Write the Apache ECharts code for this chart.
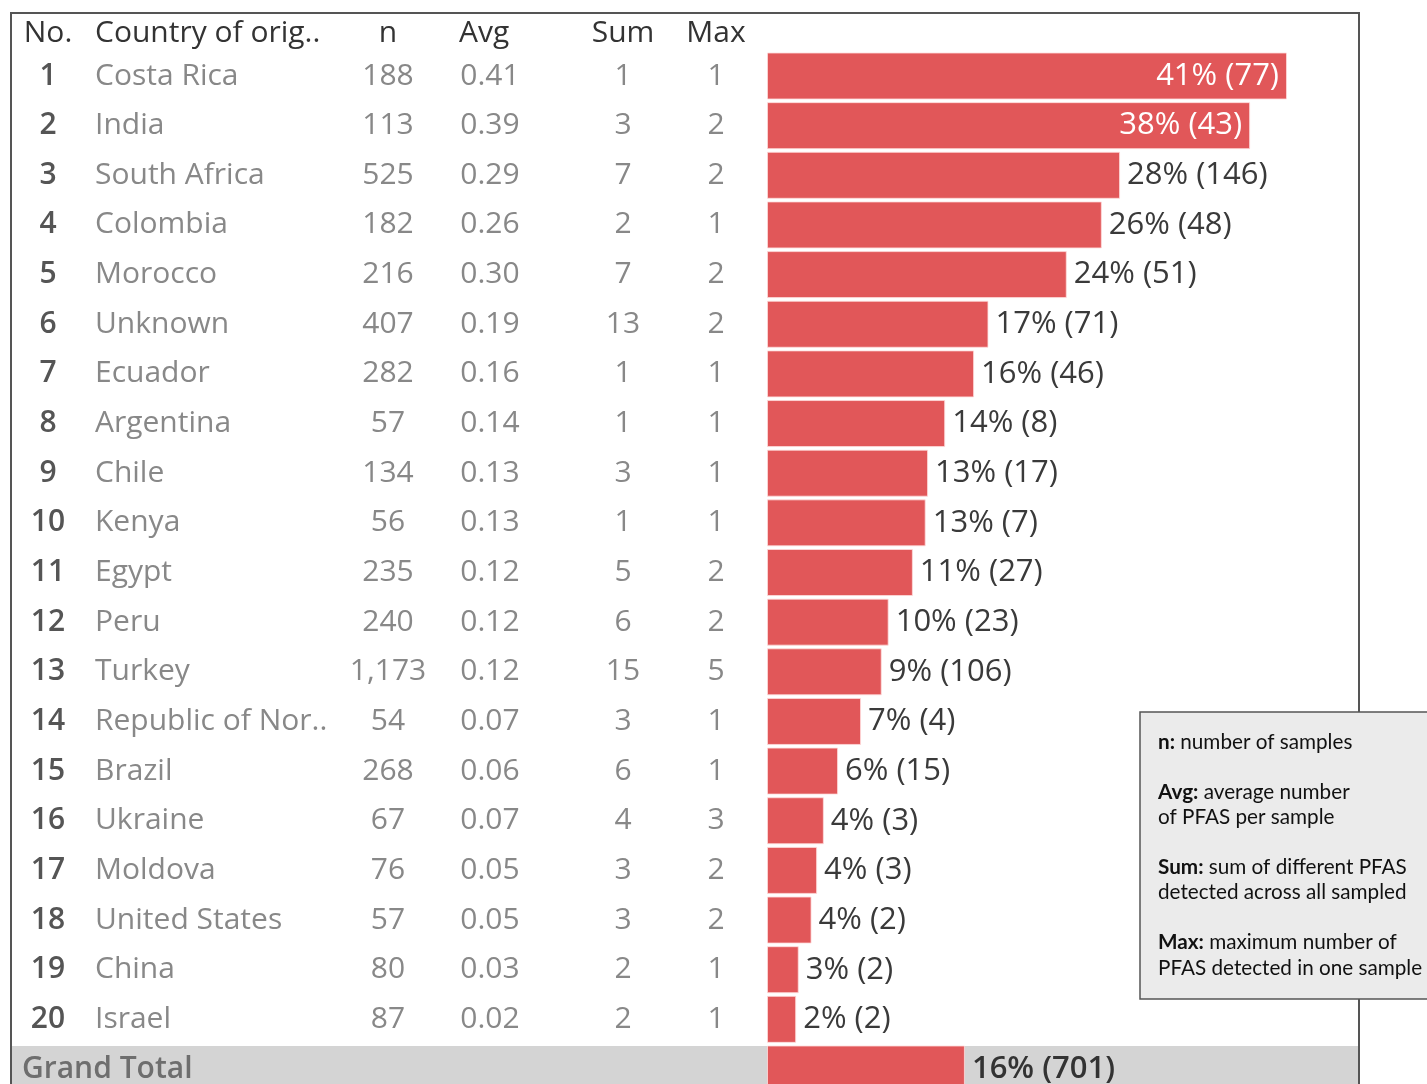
<!DOCTYPE html>
<html>
<head>
<meta charset="utf-8">
<script src="https://cdn.jsdelivr.net/npm/echarts@6/dist/echarts.min.js"></script>
<style>
    html, body { margin: 0; padding: 0; background: #fff; }
    #chart { width: 1427px; height: 1084px; }
</style>
</head>
<body>
<div id="chart"></div>
<script>
    // table data
    var countries = ['Costa Rica', 'India', 'South Africa', 'Colombia', 'Morocco', 'Unknown', 'Ecuador',
        'Argentina', 'Chile', 'Kenya', 'Egypt', 'Peru', 'Turkey', 'Republic of Nor..', 'Brazil',
        'Ukraine', 'Moldova', 'United States', 'China', 'Israel', 'Grand Total'];
    var nSamples = ['188', '113', '525', '182', '216', '407', '282', '57', '134', '56', '235', '240',
        '1,173', '54', '268', '67', '76', '57', '80', '87', ''];
    var avgVals = ['0.41', '0.39', '0.29', '0.26', '0.30', '0.19', '0.16', '0.14', '0.13', '0.13', '0.12',
        '0.12', '0.12', '0.07', '0.06', '0.07', '0.05', '0.05', '0.03', '0.02', ''];
    var sumVals = ['1', '3', '7', '2', '7', '13', '1', '1', '3', '1', '5', '6', '15', '3', '6', '4', '3', '3', '2', '2', ''];
    var maxVals = ['1', '2', '2', '1', '2', '2', '1', '1', '1', '1', '2', '2', '5', '1', '1', '3', '2', '2', '1', '1', ''];
    // bar: share of samples with detections (percent, detected count)
    var pctVals = [41, 38, 28, 26, 24, 17, 16, 14, 13, 13, 11, 10, 9, 7, 6, 4, 4, 4, 3, 2, 16];
    var detected = [77, 43, 146, 48, 51, 71, 46, 8, 17, 7, 27, 23, 106, 4, 15, 3, 3, 2, 2, 2, 701];
    var nRaw = [188, 113, 525, 182, 216, 407, 282, 57, 134, 56, 235, 240, 1173, 54, 268, 67, 76, 57, 80, 87, 4497];

    var FONT = '"Open Sans", "Noto Sans", sans-serif';
    var last = countries.length - 1;

    var chart = echarts.init(document.getElementById('chart'));

    // one hidden category axis per table column
    function colAxis(margin, align, formatter, style) {
        return {
            type: 'category',
            data: countries,
            inverse: true,
            boundaryGap: false,
            position: 'left',
            axisLine: {show: false},
            axisTick: {show: false},
            splitLine: {show: false},
            axisLabel: Object.assign({
                margin: margin,
                align: align,
                interval: 0,
                fontFamily: FONT,
                fontSize: 30,
                color: '#888',
                formatter: formatter
            }, style || {})
        };
    }

    var barData = detected.map(function (d, i) {
        var item = {value: d / nRaw[i]};
        if (i < 2) {
            item.label = {position: 'insideRight', color: '#fff', distance: 8};
        }
        if (i === last) {
            item.label = {fontWeight: 600, color: '#333'};
        }
        return item;
    });

    var headY = 33;
    function head(text, x, align) {
        return {
            type: 'text', x: x, y: headY, z: 10,
            style: {text: text, fontFamily: FONT, fontSize: 30, fontWeight: 500, fill: '#333',
                align: align, verticalAlign: 'middle'}
        };
    }

    var noteLines = [
        ['n:', ' number of samples', 742],
        ['Avg:', ' average number', 792],
        ['', 'of PFAS per sample', 817],
        ['Sum:', ' sum of different PFAS', 867],
        ['', 'detected across all sampled', 892],
        ['Max:', ' maximum number of', 942],
        ['', 'PFAS detected in one sample', 968]
    ];
    var noteTexts = noteLines.map(function (l) {
        return {
            type: 'text', x: 1158, y: l[2], z: 21,
            style: {
                text: (l[0] ? '{b|' + l[0] + '}' : '') + l[1],
                fontFamily: 'Lato, sans-serif', fontSize: 20.7, fill: '#111',
                verticalAlign: 'middle',
                rich: {b: {fontFamily: 'Lato, sans-serif', fontSize: 20.7, fontWeight: 'bold', fill: '#111'}}
            }
        };
    });

    chart.setOption({
        animation: false,
        // categories sit on the grid edges (boundaryGap false), row pitch ~49.7px
        grid: {left: 767, top: 76, width: 591, height: 995, containLabel: false},
        xAxis: {type: 'value', min: 0, max: 0.4655, show: false},
        yAxis: [
            // bars
            colAxis(0, 'right', function () { return ''; }),
            // No.
            colAxis(719, 'center', function (v, i) { return i === last ? '' : String(i + 1); },
                {color: '#555', fontWeight: 600}),
            // Grand Total label
            colAxis(745, 'left', function (v, i) { return i === last ? 'Grand Total' : ''; },
                {color: '#6e6e6e', fontWeight: 600}),
            // Country
            colAxis(672, 'left', function (v, i) { return i === last ? '' : v; }),
            // n
            colAxis(379, 'center', function (v, i) { return nSamples[i]; }),
            // Avg
            colAxis(277, 'center', function (v, i) { return avgVals[i]; }),
            // Sum
            colAxis(144, 'center', function (v, i) { return sumVals[i]; }),
            // Max
            colAxis(51, 'center', function (v, i) { return maxVals[i]; })
        ],
        series: [{
            type: 'bar',
            yAxisIndex: 0,
            data: barData,
            barWidth: 47,
            clip: false,
            z: 5,
            itemStyle: {color: '#E15759', borderColor: 'rgba(255,220,220,0.8)', borderWidth: 1},
            label: {
                show: true,
                position: 'right',
                distance: 7,
                fontFamily: FONT,
                fontSize: 31,
                color: '#3a3a3a',
                formatter: function (p) {
                    return pctVals[p.dataIndex] + '% (' + detected[p.dataIndex] + ')';
                }
            }
        }],
        graphic: [
            // grand total band
            {type: 'rect', z: 0, shape: {x: 12, y: 1046, width: 1346, height: 60}, style: {fill: '#d4d4d4'}},
            // outer frame
            {type: 'rect', z: 15, shape: {x: 11, y: 13, width: 1348, height: 1100},
                style: {fill: 'none', stroke: '#555', lineWidth: 2}},
            head('No.', 48, 'center'),
            head('Country of orig..', 95, 'left'),
            head('n', 388, 'center'),
            head('Avg', 459, 'left'),
            head('Sum', 623, 'center'),
            head('Max', 716, 'center'),
            // notes box
            {type: 'rect', z: 20, shape: {x: 1140, y: 712, width: 300, height: 287},
                style: {fill: '#ebebeb', stroke: '#555', lineWidth: 1.5}}
        ].concat(noteTexts)
    });
</script>
</body>
</html>
